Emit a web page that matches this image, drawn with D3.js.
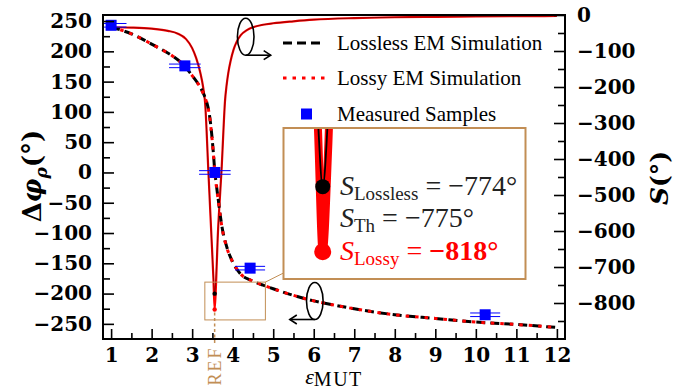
<!DOCTYPE html>
<html>
<head>
<meta charset="utf-8">
<script src="https://cdn.jsdelivr.net/npm/d3@7"></script>
<style>
  body { margin: 0; background: #fff; }
  svg { display: block; }
</style>
</head>
<body>
<div id="chart"></div>
<script>
// phase difference curves (left axis)
const epsPhi = [1.0, 1.25, 1.5, 1.75, 2.0, 2.25, 2.5, 2.75, 3.0, 3.15, 3.3, 3.36, 3.42, 3.48, 3.52, 3.56, 3.6, 3.65, 3.7, 3.75, 3.85, 4.0, 4.2, 4.45, 4.75, 5.0, 5.5, 6.0, 6.5, 7.0, 8.0, 9.0, 10.0, 11.0, 12.0]
const phiLossless = [240, 235, 229, 221, 212, 203, 193, 180, 160, 146, 127, 116, 98, 65, 35, 1, -22, -48, -74, -95, -122, -148, -168, -178, -186, -192, -203, -212, -219, -225, -235, -241, -247, -251, -256]
const phiLossy = [240, 235, 229, 221, 212, 203, 193, 180, 160, 146, 126, 115, 97, 63, 34, 0, -24, -49, -75, -96, -123, -148, -168, -178, -186, -192, -203, -212, -219, -225, -235, -241, -247, -251, -256]

// sensitivity curves (right axis)
const epsS = [1.0, 1.5, 2.0, 2.4, 2.65, 2.85, 3.0, 3.1, 3.2, 3.27, 3.32, 3.4, 3.48, 3.525, 3.555, 3.59, 3.63, 3.68, 3.73, 3.77, 3.81, 3.85, 3.89, 3.95, 4.02, 4.1, 4.2, 4.35, 4.5, 4.75, 5.0, 5.5, 6.0, 7.0, 8.0, 9.0, 10.0, 11.0, 12.0]
const sLossy = [-34, -35, -38, -44, -52, -67, -92, -120, -160, -200, -245, -434, -625, -733, -818, -745, -620, -515, -421, -325, -240, -195, -162, -127, -97, -74, -56, -42, -34, -27, -23, -17.5, -13, -8.5, -6.2, -5, -4, -3.3, -2.8]
const sLossless = [-34, -35, -38, -44, -52, -67, -92, -120, -160, -200, -245, -434, -625, -728, -774, -722, -620, -515, -421, -325, -240, -195, -162, -127, -97, -74, -56, -42, -34, -27, -23, -17.5, -13, -8.5, -6.2, -5, -4, -3.3, -2.8]

// measured samples
const sampleEps = [1.0, 2.82, 3.56, 4.43, 10.23]
const sampleErr = [0.38, 0.39, 0.39, 0.37, 0.37]
const samplePhi = [243, 176, 0, -158, -235]

const xTicks = [1, 2, 3, 4, 5, 6, 7, 8, 9, 10, 11, 12]
const xMinor = [1.5, 2.5, 3.5, 4.5, 5.5, 6.5, 7.5, 8.5, 9.5, 10.5, 11.5]
const leftTicks = [-250, -200, -150, -100, -50, 0, 50, 100, 150, 200, 250]
const leftMinor = [-225, -175, -125, -75, -25, 25, 75, 125, 175, 225]
const rightTicks = [0, -100, -200, -300, -400, -500, -600, -700, -800]
const rightMinor = [-50, -150, -250, -350, -450, -550, -650, -750, -850]

const legendLabels = ['Lossless EM Simulation', 'Lossy EM Simulation', 'Measured Samples']
const epsRef = 3.555
const sLosslessMin = -774
const sThMin = -775
const sLossyMin = -818

const width = 696
const height = 390
const plot = {left: 103, right: 565, top: 15, bottom: 339}
const tan = '#c28e55'

const svg = d3.select('#chart')
  .append('svg')
  .attr('width', width)
  .attr('height', height)
  .attr('viewBox', [0, 0, width, height])

const x = d3.scaleLinear().domain([0.8, 12.2]).range([plot.left, plot.right])
const yL = d3.scaleLinear().domain([-275, 260]).range([plot.bottom, plot.top])
const yR = d3.scaleLinear().domain([-900, 0]).range([plot.bottom, plot.top])

svg.append('clipPath').attr('id', 'plotClip')
  .append('rect')
  .attr('x', plot.left).attr('y', plot.top)
  .attr('width', plot.right - plot.left).attr('height', plot.bottom - plot.top)

const phiData = (vals) => epsPhi.map((e, i) => [e, vals[i]])
const sData = (vals) => epsS.map((e, i) => [e, vals[i]])

const linePhi = d3.line().x(d => x(d[0])).y(d => yL(d[1])).curve(d3.curveMonotoneX)
const lineS = d3.line().x(d => x(d[0])).y(d => yR(d[1])).curve(d3.curveMonotoneX)

const g = svg.append('g').attr('clip-path', 'url(#plotClip)')

// S curves
g.append('path').attr('d', lineS(sData(sLossy)))
  .attr('fill', 'none').attr('stroke', '#ff0000').attr('stroke-width', 2.2)
g.append('path').attr('d', lineS(sData(sLossless)))
  .attr('fill', 'none').attr('stroke', '#000').attr('stroke-width', 0.6).attr('stroke-opacity', 0.7)
g.append('circle').attr('cx', x(epsRef)).attr('cy', yR(sLossyMin)).attr('r', 2.2).attr('fill', '#ff0000')
g.append('circle').attr('cx', x(epsRef)).attr('cy', yR(sLosslessMin)).attr('r', 2.2).attr('fill', '#000')

// phase curves
g.append('path').attr('d', linePhi(phiData(phiLossless)))
  .attr('fill', 'none').attr('stroke', '#000').attr('stroke-width', 3)
  .attr('stroke-dasharray', '9,5')
g.append('path').attr('d', linePhi(phiData(phiLossy)))
  .attr('fill', 'none').attr('stroke', '#ff0000').attr('stroke-width', 3)
  .attr('stroke-dasharray', '3.5,6')

// measured samples with horizontal error bars
const samples = sampleEps.map((e, i) => ({eps: e, err: sampleErr[i], phi: samplePhi[i]}))
const sg = g.selectAll('.sample').data(samples).join('g').attr('class', 'sample')
sg.selectAll('line').data(d => [-1.8, 1.8].map(o => ({d, o}))).join('line')
  .attr('x1', p => x(p.d.eps - p.d.err)).attr('x2', p => x(p.d.eps + p.d.err))
  .attr('y1', p => yL(p.d.phi) + p.o).attr('y2', p => yL(p.d.phi) + p.o)
  .attr('stroke', '#0000ff').attr('stroke-width', 1)
sg.append('rect')
  .attr('x', d => x(d.eps) - 5.5).attr('y', d => yL(d.phi) - 5.5)
  .attr('width', 11).attr('height', 11).attr('fill', '#0000ff')

// zoom window marker + REF line
const boxEps = [3.313, 4.807]
const boxS = [-742, -847]
svg.append('rect')
  .attr('x', x(boxEps[0])).attr('y', yR(boxS[0]))
  .attr('width', x(boxEps[1]) - x(boxEps[0])).attr('height', yR(boxS[1]) - yR(boxS[0]))
  .attr('fill', 'none').attr('stroke', tan).attr('stroke-width', 1)
svg.append('line')
  .attr('x1', x(epsRef)).attr('x2', x(epsRef))
  .attr('y1', yR(sLossyMin) + 3).attr('y2', plot.bottom + 4)
  .attr('stroke', tan).attr('stroke-width', 1.5).attr('stroke-dasharray', '3,2.5')
svg.append('text')
  .attr('transform', `translate(${x(epsRef) + 6},${plot.bottom + 27}) rotate(-90)`)
  .attr('text-anchor', 'middle')
  .attr('font-family', 'Liberation Serif').attr('font-size', 18)
  .attr('letter-spacing', 2)
  .attr('fill', tan)
  .text('REF')

// axes
function styleAxis(sel) {
  sel.select('.domain').remove()
  sel.selectAll('.tick line').attr('stroke', '#000').attr('stroke-width', 1.6)
  sel.selectAll('text')
    .attr('font-family', 'DejaVu Serif').attr('font-weight', 'bold')
    .attr('font-size', 20).attr('fill', '#000')
}

svg.append('g').attr('transform', `translate(${plot.left},0)`)
  .call(d3.axisLeft(yL).tickValues(leftTicks).tickSize(-11).tickPadding(11))
  .call(styleAxis)
svg.append('g').attr('transform', `translate(${plot.left},0)`)
  .call(d3.axisLeft(yL).tickValues(leftMinor).tickSize(-7).tickFormat(''))
  .call(styleAxis)
svg.append('g').attr('transform', `translate(${plot.right},0)`)
  .call(d3.axisRight(yR).tickValues(rightTicks).tickSize(-11).tickPadding(12))
  .call(styleAxis)
svg.append('g').attr('transform', `translate(${plot.right},0)`)
  .call(d3.axisRight(yR).tickValues(rightMinor).tickSize(-7).tickFormat(''))
  .call(styleAxis)
svg.append('g').attr('transform', `translate(0,${plot.bottom})`)
  .call(d3.axisBottom(x).tickValues(xTicks).tickSize(-10).tickPadding(9))
  .call(styleAxis)
svg.append('g').attr('transform', `translate(0,${plot.bottom})`)
  .call(d3.axisBottom(x).tickValues(xMinor).tickSize(-6).tickFormat(''))
  .call(styleAxis)

svg.append('rect')
  .attr('x', plot.left).attr('y', plot.top)
  .attr('width', plot.right - plot.left).attr('height', plot.bottom - plot.top)
  .attr('fill', 'none').attr('stroke', '#000').attr('stroke-width', 2)

// axis titles
const leftTitle = svg.append('text')
  .attr('transform', 'translate(41,176) rotate(-90)')
  .attr('text-anchor', 'middle')
  .attr('font-family', 'DejaVu Serif').attr('font-weight', 'bold').attr('font-size', 26)
leftTitle.append('tspan').text('Δ')
leftTitle.append('tspan').attr('font-style', 'italic').text('φ')
leftTitle.append('tspan').attr('font-style', 'italic').attr('font-size', 17).attr('dy', 6).text('ρ')
leftTitle.append('tspan').attr('dy', -6).text('(°)')

const rightTitle = svg.append('text')
  .attr('transform', 'translate(668,178) rotate(-90)')
  .attr('text-anchor', 'middle')
  .attr('font-family', 'DejaVu Serif').attr('font-weight', 'bold').attr('font-size', 25)
rightTitle.append('tspan').attr('font-style', 'italic').text('S')
rightTitle.append('tspan').text('(°)')

const xTitle = svg.append('text')
  .attr('x', (plot.left + plot.right) / 2).attr('y', 384)
  .attr('text-anchor', 'middle')
  .attr('font-family', 'Liberation Serif')
xTitle.append('tspan').attr('font-style', 'italic').attr('font-size', 22).text('ε')
xTitle.append('tspan').attr('font-size', 20).attr('letter-spacing', 1.5).attr('dy', 2).text('MUT')

// legend
const legend = svg.append('g').attr('transform', 'translate(283,0)')
const legendY = [43, 78, 114]
legend.append('line').attr('x1', 0).attr('x2', 42).attr('y1', legendY[0]).attr('y2', legendY[0])
  .attr('stroke', '#000').attr('stroke-width', 3).attr('stroke-dasharray', '9,5')
legend.append('line').attr('x1', 0).attr('x2', 42).attr('y1', legendY[1]).attr('y2', legendY[1])
  .attr('stroke', '#ff0000').attr('stroke-width', 3).attr('stroke-dasharray', '3.5,6')
legend.append('rect').attr('x', 18).attr('y', legendY[2] - 5.5).attr('width', 11).attr('height', 11)
  .attr('fill', '#0000ff')
legend.selectAll('.lbl').data(legendLabels).join('text')
  .attr('class', 'lbl')
  .attr('x', 54).attr('y', (d, i) => legendY[i] + 7)
  .attr('font-family', 'Liberation Serif').attr('font-size', 21).attr('fill', '#000')
  .text(d => d)

// ellipse annotations with arrows
function marker(cx, cy, dir) {
  const a = svg.append('g').attr('fill', 'none').attr('stroke', '#000').attr('stroke-width', 1.6)
  a.append('ellipse').attr('cx', cx).attr('cy', cy).attr('rx', 8.3).attr('ry', 18.5)
  const yb = cy + 18.5
  const xe = cx + dir * 25
  a.append('line').attr('x1', cx).attr('x2', xe).attr('y1', yb).attr('y2', yb)
  a.append('path').attr('d', `M${xe - dir * 7},${yb - 4.5} L${xe},${yb} L${xe - dir * 7},${yb + 4.5}`)
}
marker(245.7, 36.7, 1)
marker(314.8, 301, -1)

// inset (zoom of the dip)
const inset = {left: 283.5, right: 525.5, top: 128, bottom: 279}
const xI = d3.scaleLinear().domain([3.313, 4.807]).range([inset.left, inset.right])
const yI = d3.scaleLinear().domain([-734.3, -836.5]).range([inset.top, inset.bottom])

svg.append('line')
  .attr('x1', x(boxEps[1])).attr('y1', yR(boxS[0]))
  .attr('x2', inset.left).attr('y2', 273)
  .attr('stroke', tan).attr('stroke-width', 1)

svg.append('rect')
  .attr('x', inset.left).attr('y', inset.top)
  .attr('width', inset.right - inset.left).attr('height', inset.bottom - inset.top)
  .attr('fill', '#fff')

svg.append('clipPath').attr('id', 'insetClip')
  .append('rect')
  .attr('x', inset.left).attr('y', inset.top)
  .attr('width', inset.right - inset.left).attr('height', inset.bottom - inset.top)

const lineI = d3.line().x(d => xI(d[0])).y(d => yI(d[1])).curve(d3.curveMonotoneX)
const gi = svg.append('g').attr('clip-path', 'url(#insetClip)')
gi.append('path').attr('d', lineI(sData(sLossy)))
  .attr('fill', 'none').attr('stroke', '#ff0000').attr('stroke-width', 8)
gi.append('path').attr('d', lineI(sData(sLossless)))
  .attr('fill', 'none').attr('stroke', '#000').attr('stroke-width', 1.8)
gi.append('circle').attr('cx', xI(epsRef)).attr('cy', yI(sLossyMin)).attr('r', 8.5).attr('fill', '#ff0000')
gi.append('circle').attr('cx', xI(epsRef)).attr('cy', yI(sLosslessMin)).attr('r', 7.5).attr('fill', '#000')

svg.append('rect')
  .attr('x', inset.left).attr('y', inset.top)
  .attr('width', inset.right - inset.left).attr('height', inset.bottom - inset.top)
  .attr('fill', 'none').attr('stroke', tan).attr('stroke-width', 2)

const fmtDeg = v => d3.format('d')(v).replace('-', '−') + '°'
const insetRows = [
  {sub: 'Lossless', val: sLosslessMin, color: '#222', bold: false, y: 195},
  {sub: 'Th', val: sThMin, color: '#222', bold: false, y: 227},
  {sub: 'Lossy', val: sLossyMin, color: '#ff0000', bold: true, y: 260}
]
insetRows.forEach(r => {
  const t = svg.append('text')
    .attr('x', 340).attr('y', r.y)
    .attr('font-family', 'Liberation Serif').attr('font-size', 28).attr('fill', r.color)
  t.append('tspan').attr('font-style', 'italic').text('S')
  t.append('tspan').attr('font-size', 19).attr('dy', 5).text(r.sub)
  t.append('tspan').attr('dy', -5).text(' = ')
  t.append('tspan').attr('font-weight', r.bold ? 'bold' : 'normal').text(fmtDeg(r.val))
})
</script>
</body>
</html>
